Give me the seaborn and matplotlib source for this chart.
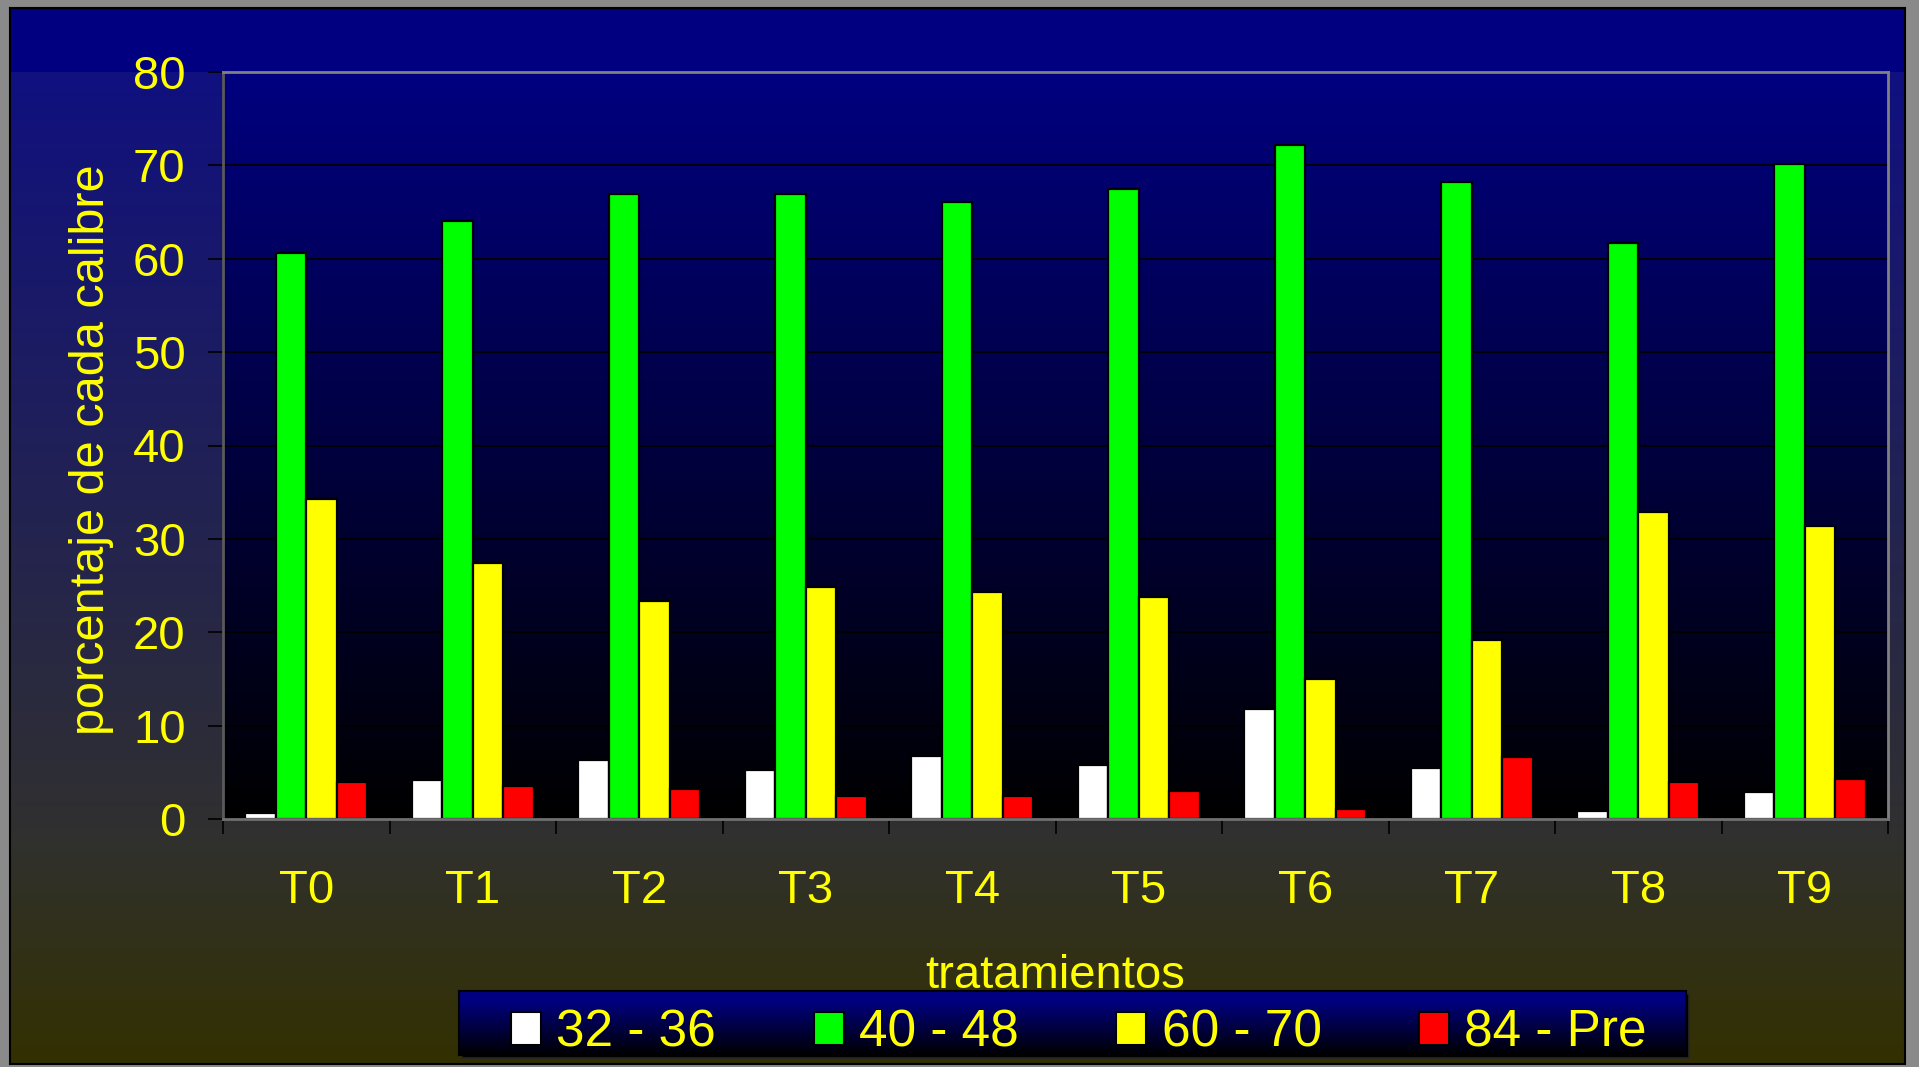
import numpy as np
import pandas as pd
import matplotlib
matplotlib.use('Agg')
import matplotlib.pyplot as plt
from matplotlib.patches import Patch
import seaborn as sns

# Datos
tratamientos = ['T0', 'T1', 'T2', 'T3', 'T4', 'T5', 'T6', 'T7', 'T8', 'T9']
calibres = ['32 - 36', '40 - 48', '60 - 70', '84 - Pre']
c32_36 = [0.6, 4.2, 6.3, 5.2, 6.8, 5.8, 11.8, 5.5, 0.9, 2.9]
c40_48 = [60.6, 64.0, 66.9, 66.9, 66.1, 67.5, 72.2, 68.2, 61.7, 70.1]
c60_70 = [34.3, 27.4, 23.4, 24.8, 24.3, 23.8, 15.0, 19.2, 32.9, 31.4]
c84_pre = [4.0, 3.5, 3.2, 2.5, 2.5, 3.0, 1.1, 6.6, 4.0, 4.3]
colores = ['#FFFFFF', '#00FF00', '#FFFF00', '#FF0000']

df = pd.DataFrame({
    'tratamiento': tratamientos * 4,
    'calibre': np.repeat(calibres, len(tratamientos)),
    'porcentaje': c32_36 + c40_48 + c60_70 + c84_pre,
})

sns.set_theme(style='white')
plt.rcParams['font.family'] = ['Liberation Sans', 'DejaVu Sans']

W, H = 1919, 1067
fig = plt.figure(figsize=(W / 100, H / 100), dpi=100, facecolor='#8a8a8a')


def rect(x0, y0, x1, y1):
    # pixeles (origen arriba-izquierda) -> coordenadas de figura
    return [x0 / W, 1 - y1 / H, (x1 - x0) / W, (y1 - y0) / H]


def gradiente(ys, stops_y, stops_c):
    stops_c = np.array(stops_c, dtype=float) / 255.0
    cols = np.stack([np.interp(ys, stops_y, stops_c[:, k]) for k in range(3)], axis=1)
    return cols[:, None, :]


# Fondo del área del gráfico
ax_bg = fig.add_axes(rect(10, 8, 1905, 1064), zorder=0)
ys = np.arange(8, 1064)
img = gradiente(ys, [8, 71, 72, 830, 1064],
                [(0, 0, 128), (0, 0, 128), (16, 16, 128), (48, 48, 48), (51, 48, 0)])
ax_bg.imshow(img, aspect='auto', extent=[0, 1, 0, 1], interpolation='nearest')
ax_bg.set_xticks([]); ax_bg.set_yticks([])
for s in ax_bg.spines.values():
    s.set_color('black'); s.set_linewidth(1.5)

# Fondo del área de trazado
ax_pbg = fig.add_axes(rect(223, 72, 1888, 819), zorder=1)
ys = np.arange(72, 819)
ax_pbg.imshow(gradiente(ys, [72, 819], [(0, 0, 128), (0, 0, 0)]),
              aspect='auto', extent=[0, 1, 0, 1])
ax_pbg.axis('off')

# Gráfico principal
ax = fig.add_axes(rect(223, 72, 1888, 819), zorder=2)
ax.set_facecolor('none')
sns.barplot(data=df, x='tratamiento', y='porcentaje', hue='calibre',
            palette=colores, saturation=1, width=0.73, gap=0,
            edgecolor='black', linewidth=1.6, legend=False, ax=ax)
ax.set_xlim(-0.5, 9.5)
ax.set_ylim(0, 80)
ax.set_yticks(np.arange(0, 81, 10))
ax.yaxis.grid(True, color='black', linewidth=1.3)
ax.set_axisbelow(True)
ax.set_xlabel('')
ax.set_ylabel('')

ax.set_xticks(np.arange(-0.5, 10, 1), minor=True)
ax.tick_params(axis='y', left=True, length=11, width=1.2, color='black',
               labelcolor='yellow', labelsize=34, pad=16)
ax.tick_params(axis='x', which='major', bottom=True, length=0,
               labelcolor='yellow', labelsize=34, pad=36)
ax.tick_params(axis='x', which='minor', bottom=True, length=11, width=1.2,
               color='black')

for lado, col in [('top', '#808080'), ('right', '#808080'),
                  ('left', '#5a5a5a'), ('bottom', '#707070')]:
    ax.spines[lado].set_visible(True)
    ax.spines[lado].set_color(col)
    ax.spines[lado].set_linewidth(2)

fig.text(92 / W, 1 - 450 / H, 'porcentaje de cada calibre', rotation=90,
         ha='center', va='center', color='yellow', fontsize=35)
fig.text(1055 / W, 1 - 988 / H, 'tratamientos', ha='center', va='baseline',
         color='yellow', fontsize=34)

# Leyenda con fondo degradado
ax_sh = fig.add_axes(rect(462, 994, 1689, 1058), zorder=3)
ax_sh.set_facecolor('black'); ax_sh.set_xticks([]); ax_sh.set_yticks([])
ax_leg = fig.add_axes(rect(459, 991, 1686, 1055), zorder=4)
ax_leg.imshow(gradiente(np.arange(991, 1055), [991, 1000, 1055],
                        [(0, 0, 128), (0, 0, 128), (0, 0, 0)]),
              aspect='auto', extent=[0, 1, 0, 1])
ax_leg.set_xticks([]); ax_leg.set_yticks([])
for s in ax_leg.spines.values():
    s.set_color('black'); s.set_linewidth(1.5)

handles = [Patch(facecolor=c, edgecolor='black', linewidth=1.5) for c in colores]
leg = fig.legend(handles, calibres, loc='center',
                 bbox_to_anchor=(1079 / W, 1 - 1033 / H), ncol=4, frameon=False,
                 fontsize=37, handlelength=0.58, handleheight=0.62,
                 handletextpad=0.3, columnspacing=1.9, labelcolor='yellow')
leg.set_zorder(5)

fig.savefig('out.png', dpi=100, facecolor=fig.get_facecolor())
